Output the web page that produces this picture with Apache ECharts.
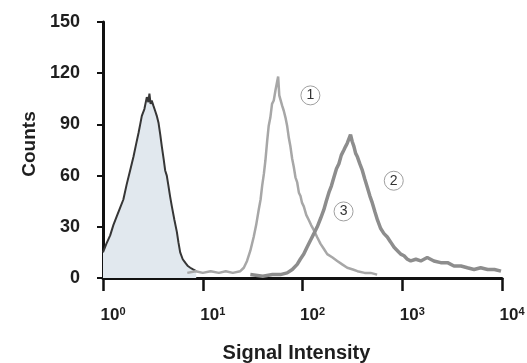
<!DOCTYPE html>
<html>
<head>
<meta charset="utf-8">
<script src="https://cdn.jsdelivr.net/npm/echarts@6/dist/echarts.min.js"></script>
<style>
  html, body { margin: 0; padding: 0; background: #fff; }
  #chart { width: 527px; height: 363px; }
</style>
</head>
<body>
<div id="chart"></div>
<script>
// control histogram (filled)
const controlX = [1.0, 1.08, 1.18, 1.27, 1.37, 1.48, 1.6, 1.73, 1.87, 2.02, 2.14, 2.27, 2.36, 2.45, 2.6, 2.75, 2.85, 2.92, 3.0, 3.08, 3.2, 3.33, 3.46, 3.6, 3.75, 3.89, 4.05, 4.2, 4.36, 4.53, 4.7, 4.9, 5.2, 5.5, 5.7, 5.94, 6.3, 6.67, 7.1, 7.5, 8.0, 8.6]
const controlY = [15, 20, 25, 31, 36, 41, 46, 55, 63, 71, 78, 85, 90, 95, 99, 106, 103, 108, 102, 104, 101, 98, 95, 91, 84, 77, 70, 63, 60, 54, 48, 42, 34, 27, 21, 15, 11, 9, 7, 6, 5, 4]

// curve 1
const curve1X = [7, 8.5, 10, 12, 14.5, 17, 20, 23.8, 25.8, 27.8, 30, 32.4, 34.3, 36.4, 38, 39.4, 41, 42.5, 44.2, 45.8, 47.6, 49.5, 51.5, 53.6, 55.2, 57, 58.5, 60.1, 62.5, 64.9, 67.5, 70.2, 73, 75.7, 78.7, 81.8, 85, 88.5, 92, 95.5, 99, 103, 109, 115.6, 122, 130, 140, 151.7, 164, 177, 200, 223, 250, 281, 320, 355, 420, 482, 560]
const curve1Y = [3, 4, 3, 4, 3, 4, 3, 4, 6, 10, 16, 24, 31, 40, 46, 54, 61, 69, 80, 89, 94, 102, 104, 110, 109, 118, 107, 108, 101, 98, 94, 89, 82, 77, 70, 65, 59, 56, 50, 48, 44, 42, 37, 34, 31, 28, 24, 20, 17, 14, 12, 10, 8, 6, 5, 4, 3, 3, 2]

// curve 2
const curve2X = [30, 40, 50, 60, 70.2, 79, 88.5, 95, 103, 111, 120, 130, 140.6, 152, 163.7, 173, 183.7, 195, 206.5, 219, 231.7, 245, 260, 270, 281, 292, 303, 315, 328, 341, 355, 375, 398, 421, 447, 474, 501, 531, 564, 608, 656, 708, 766, 828, 895, 965, 1042, 1125, 1216, 1370, 1535, 1780, 2075, 2430, 2844, 3300, 3873, 4500, 5248, 6100, 7178, 8400, 9772]
const curve2Y = [2, 1, 2, 2, 3, 5, 8, 11, 14, 18, 22, 26, 30, 35, 40, 45, 50, 54, 59, 64, 67, 72, 75, 77, 79, 78, 84, 80, 77, 73, 71, 67, 63, 58, 53, 48, 44, 39, 34, 29, 26, 24, 21, 18, 16, 14, 13, 11, 10, 11, 10, 12, 10, 9, 9, 7, 7, 6, 5, 6, 5, 5, 4]

// circled labels: [text, x, y]
const tags = [['1', 120, 107], ['2', 822, 57], ['3', 258, 39]]

const zip = (xs, ys) => xs.map((x, i) => [x, ys[i]])

const chart = echarts.init(document.getElementById('chart'))

const tagPoints = tags.map((t) => ({
  coord: [t[1], t[2]],
  value: t[0],
}))

const option = {
  backgroundColor: '#fff',
  animation: false,
  grid: {
    left: 103,
    right: 25,
    top: 22,
    bottom: 85,
    outerBoundsMode: 'none',
  },
  xAxis: {
    type: 'log',
    logBase: 10,
    min: 1,
    max: 10000,
    name: 'Signal Intensity',
    nameLocation: 'middle',
    nameGap: 65,
    nameTextStyle: {
      fontFamily: 'Liberation Sans',
      fontWeight: 'bold',
      fontSize: 20,
      color: '#1e1e1e',
      padding: [0, 12, 0, 0],
    },
    splitLine: { show: false },
    axisLine: { lineStyle: { color: '#111', width: 3 } },
    axisTick: { length: 13, lineStyle: { color: '#111', width: 2.5 } },
    axisLabel: {
      margin: 28,
      fontFamily: 'Liberation Sans',
      fontWeight: 'bold',
      fontSize: 17,
      color: '#1e1e1e',
      padding: [0, 0, 0, 20],
      formatter: function (value) {
        return '10{s|' + Math.round(Math.log10(value)) + '}'
      },
      rich: {
        s: { fontSize: 11, padding: [0, 0, 8, 0], fontFamily: 'Liberation Sans', color: '#1e1e1e' },
      },
    },
  },
  yAxis: {
    type: 'value',
    min: 0,
    max: 150,
    interval: 30,
    name: 'Counts',
    nameLocation: 'middle',
    nameGap: 64,
    nameTextStyle: {
      fontFamily: 'Liberation Sans',
      fontWeight: 'bold',
      fontSize: 19,
      color: '#1e1e1e',
      padding: [0, 0, 0, 12],
    },
    splitLine: { show: false },
    axisLine: { show: true, lineStyle: { color: '#111', width: 3 } },
    axisTick: { show: true, length: 6, lineStyle: { color: '#111', width: 2 } },
    axisLabel: {
      margin: 23,
      fontFamily: 'Liberation Sans',
      fontWeight: 'bold',
      fontSize: 18,
      color: '#1e1e1e',
    },
  },
  series: [
    {
      name: 'control',
      type: 'line',
      data: zip(controlX, controlY),
      showSymbol: false,
      lineStyle: { color: '#363636', width: 2 },
      areaStyle: { color: '#e1e8ee', opacity: 1 },
      z: 2,
    },
    {
      name: '1',
      type: 'line',
      data: zip(curve1X, curve1Y),
      showSymbol: false,
      lineStyle: { color: '#a7a7a7', width: 2.5 },
      z: 3,
      markPoint: {
        symbol: 'circle',
        symbolSize: 19,
        itemStyle: { color: '#fff', borderColor: '#a0a0a0', borderWidth: 1 },
        label: {
          show: true,
          position: 'inside',
          fontFamily: 'Liberation Sans',
          fontSize: 14,
          color: '#333',
          formatter: (p) => p.value,
        },
        data: tagPoints,
      },
    },
    {
      name: '2',
      type: 'line',
      data: zip(curve2X, curve2Y),
      showSymbol: false,
      lineStyle: { color: '#8d8d8d', width: 3.5 },
      z: 4,
    },
  ],
}

chart.setOption(option)
</script>
</body>
</html>
